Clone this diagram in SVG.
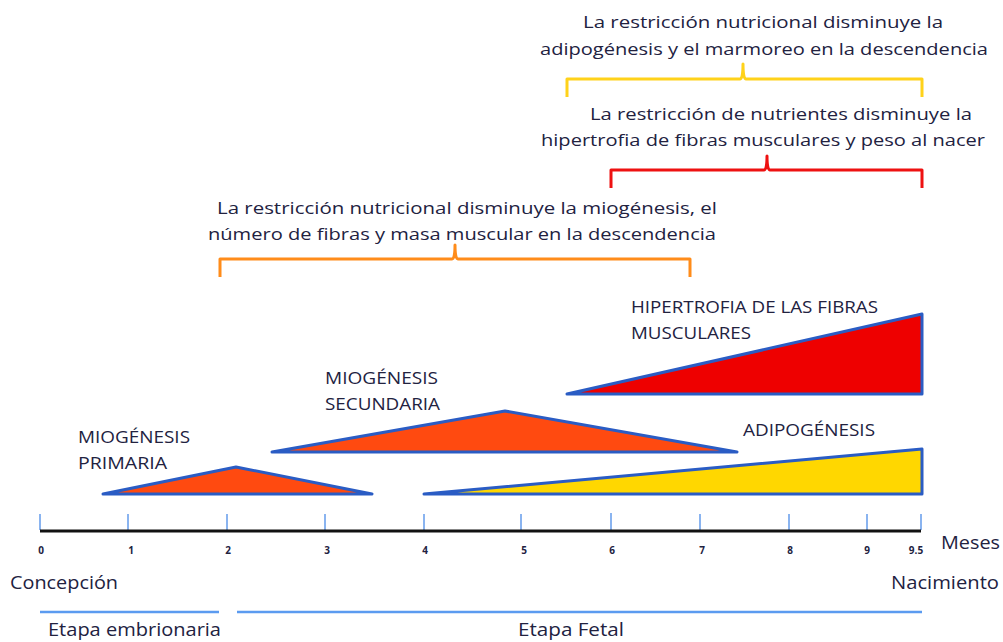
<svg xmlns="http://www.w3.org/2000/svg" width="1003" height="642" viewBox="0 0 1003 642">
<style>
.t{font-family:"Open Sans","Liberation Sans",sans-serif;fill:#22223f}
.n{font-size:17px}
.l{font-size:16px}
.b{font-size:18px}
.tk{font-size:10px;font-weight:bold}
.br{fill:none;stroke-width:3;stroke-linejoin:round}
.tri{stroke:#2a5cc4;stroke-width:3;stroke-linejoin:round}
.tick{stroke:#8ab4f0;stroke-width:2}
.stage{stroke:#5b9bf0;stroke-width:2.5}
</style>
<rect width="1003" height="642" fill="#fff"/>
<g id="note-adipo">
<text class="t n" x="763" y="28" text-anchor="middle" textLength="360" lengthAdjust="spacingAndGlyphs">La restricción nutricional disminuye la</text>
<text class="t n" x="764" y="55" text-anchor="middle" textLength="448" lengthAdjust="spacingAndGlyphs">adipogénesis y el marmoreo en la descendencia</text>
</g>
<g id="note-hiper">
<text class="t n" x="781" y="120" text-anchor="middle" textLength="382" lengthAdjust="spacingAndGlyphs">La restricción de nutrientes disminuye la</text>
<text class="t n" x="763" y="146" text-anchor="middle" textLength="444" lengthAdjust="spacingAndGlyphs">hipertrofia de fibras musculares y peso al nacer</text>
</g>
<g id="note-mio">
<text class="t n" x="467" y="214" text-anchor="middle" textLength="500" lengthAdjust="spacingAndGlyphs">La restricción nutricional disminuye la miogénesis, el</text>
<text class="t n" x="462" y="240" text-anchor="middle" textLength="508" lengthAdjust="spacingAndGlyphs">número de fibras y masa muscular en la descendencia</text>
</g>
<g id="connectors">
<path class="br" stroke="#ffd21a" d="M567,97 V79 H740 Q743,79 743,64 Q743,79 746,79 H922 V97"/>
<path class="br" stroke="#ee1111" d="M611,188 V170 H764 Q767,170 767,156 Q767,170 770,170 H922 V188"/>
<path class="br" stroke="#ff8c1a" d="M220,277 V259 H452 Q455,259 455,245 Q455,259 458,259 H690 V277"/>
</g>
<g id="hipertrofia">
<polygon class="tri" fill="#ee0000" points="567,394 922,314 922,394"/>
<text class="t l" x="631" y="313" textLength="247" lengthAdjust="spacingAndGlyphs">HIPERTROFIA DE LAS FIBRAS</text>
<text class="t l" x="631" y="339" textLength="120" lengthAdjust="spacingAndGlyphs">MUSCULARES</text>
</g>
<g id="secundaria">
<polygon class="tri" fill="#ff4a10" points="272,452 505,411 737,452"/>
<text class="t l" x="325" y="384" textLength="113" lengthAdjust="spacingAndGlyphs">MIOGÉNESIS</text>
<text class="t l" x="325" y="410" textLength="115" lengthAdjust="spacingAndGlyphs">SECUNDARIA</text>
</g>
<g id="primaria">
<polygon class="tri" fill="#ff4a10" points="103,494 236,467 372,494"/>
<text class="t l" x="78" y="443" textLength="112" lengthAdjust="spacingAndGlyphs">MIOGÉNESIS</text>
<text class="t l" x="78" y="469" textLength="89" lengthAdjust="spacingAndGlyphs">PRIMARIA</text>
</g>
<g id="adipogenesis">
<polygon class="tri" fill="#ffd700" points="424,494 922,449 922,494"/>
<text class="t l" x="743" y="436" textLength="132" lengthAdjust="spacingAndGlyphs">ADIPOGÉNESIS</text>
</g>
<g id="axis">
<g class="tick">
<line x1="40" y1="514" x2="40" y2="530"/><line x1="128" y1="514" x2="128" y2="530"/><line x1="227" y1="514" x2="227" y2="530"/><line x1="325" y1="514" x2="325" y2="530"/><line x1="424" y1="514" x2="424" y2="530"/><line x1="521" y1="514" x2="521" y2="530"/><line x1="611" y1="513" x2="611" y2="530"/><line x1="700" y1="514" x2="700" y2="530"/><line x1="789" y1="514" x2="789" y2="530"/><line x1="867" y1="514" x2="867" y2="530"/><line x1="921" y1="514" x2="921" y2="530"/>
</g>
<line x1="40" y1="531" x2="921" y2="531" stroke="#111" stroke-width="3"/>
<g class="t tk" text-anchor="middle">
<text x="41" y="554">0</text><text x="131" y="554">1</text><text x="228" y="554">2</text><text x="327" y="554">3</text><text x="425" y="554">4</text><text x="524" y="554">5</text><text x="612" y="554">6</text><text x="702" y="554">7</text><text x="790" y="554">8</text><text x="867" y="554">9</text><text x="916" y="554">9.5</text>
</g>
<text class="t b" x="941" y="549" textLength="59" lengthAdjust="spacingAndGlyphs">Meses</text>
<text class="t b" x="10" y="589" textLength="108" lengthAdjust="spacingAndGlyphs">Concepción</text>
<text class="t b" x="891" y="589" textLength="108" lengthAdjust="spacingAndGlyphs">Nacimiento</text>
</g>
<g id="stages">
<line class="stage" x1="40" y1="612" x2="219" y2="612"/>
<line class="stage" x1="237" y1="612" x2="922" y2="612"/>
<text class="t b" x="48" y="636" textLength="173" lengthAdjust="spacingAndGlyphs">Etapa embrionaria</text>
<text class="t b" x="518" y="636" textLength="106" lengthAdjust="spacingAndGlyphs">Etapa Fetal</text>
</g>
</svg>
